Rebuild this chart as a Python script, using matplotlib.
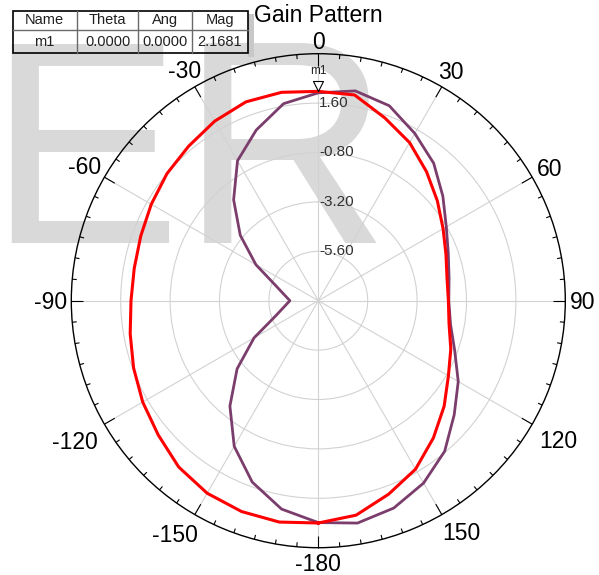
import numpy as np
import matplotlib
matplotlib.use('Agg')
import matplotlib.pyplot as plt
from matplotlib.patches import Rectangle
from matplotlib.transforms import ScaledTranslation

plt.rcParams['font.family'] = ['Liberation Sans', 'DejaVu Sans']

# gain pattern, dB, sampled every 10 deg (clockwise from top)
theta_deg = np.arange(-180, 181, 10)
gain_red = [2.80, 2.92, 2.90, 2.80, 2.55, 2.15, 1.85, 1.55, 1.28, 1.10,
            1.08, 1.18, 1.37, 1.60, 1.80, 2.07, 2.28, 2.28, 2.17,
            2.15, 1.45, 0.87, 0.18, -0.45, -1.00, -1.40, -1.65, -1.68,
            -1.55, -1.15, -0.70, -0.02, 0.70, 1.45, 2.00, 2.58, 2.80]
gain_purple = [2.78, 2.28, 1.38, 0.17, -1.32, -2.85, -4.40, -5.77, -6.32, -6.62,
               -6.32, -5.77, -4.50, -3.05, -1.60, -0.15, 0.82, 1.72, 2.10,
               2.35, 2.08, 1.38, 0.72, -0.10, -0.82, -1.28, -1.55, -1.66,
               -1.48, -0.95, -0.15, 0.62, 1.55, 2.23, 2.72, 2.97, 2.78]

r_min, r_max = -8.0, 4.0
ring_values = [-5.6, -3.2, -0.8, 1.6]
ang_ticks = [0, 30, 60, 90, 120, 150, 180, -150, -120, -90, -60, -30]
ang_labels = ['0', '30', '60', '90', '120', '150', '-180', '-150', '-120', '-90', '-60', '-30']

marker_name = 'm1'
marker_theta = 0.0
marker_mag = 2.1681
table_head = ['Name', 'Theta', 'Ang', 'Mag']
table_row = ['m1', '0.0000', '0.0000', '2.1681']

W, H = 599, 575
fig = plt.figure(figsize=(W / 100, H / 100), dpi=100)


def fx(px):
    return px / W


def fy(py):
    return 1 - py / H


# watermark behind everything
fig.text(fx(-13), fy(243), 'ER', fontsize=209, color='#d9d9d9',
         ha='left', va='baseline', zorder=-1)

ax = fig.add_axes([0.11903, 0.04748, 0.82471, 0.85913], projection='polar', zorder=1)
ax.set_facecolor('none')
ax.set_theta_zero_location('N')
ax.set_theta_direction(-1)
ax.set_rlim(r_min, r_max)
ax.set_rgrids(ring_values, labels=[''] * len(ring_values))
ax.set_thetagrids(np.arange(0, 360, 30), labels=[''] * 12)
ax.grid(color='#d2d2d2', lw=0.8)
ax.tick_params(length=0)
ax.spines['polar'].set_color('black')
ax.spines['polar'].set_linewidth(1.0)

# tick marks round the rim
px2db = (r_max - r_min) / 247.0
minor = [a for a in range(0, 360, 5) if a % 30]
ax.vlines(np.deg2rad(minor), r_max - 4.5 * px2db, r_max, colors='black', lw=0.8, clip_on=False)
ax.vlines(np.deg2rad(np.arange(0, 360, 30)), r_max - 12 * px2db, r_max, colors='black', lw=0.8, clip_on=False)

th = np.deg2rad(theta_deg)
ax.plot(th, gain_purple, color='#7b3d6c', lw=2.0, zorder=3)
ax.plot(th, gain_red, color='#ff0000', lw=2.2, zorder=4)

# marker m1
tri = [(-0.5, 1), (0.5, 1), (0, 0), (-0.5, 1)]
ax.plot([np.deg2rad(marker_theta)], [marker_mag], marker=tri, ms=14.4, mfc='white',
        mec='black', mew=0.8, ls='none', zorder=6, clip_on=False)
ax.annotate(marker_name, xy=(np.deg2rad(marker_theta), marker_mag), xytext=(0, 10.5),
            textcoords='offset points', ha='center', va='bottom', fontsize=8.5, color='#202020')

# ring labels
for v in ring_values:
    ax.annotate('%.2f' % v, xy=(0, v), xytext=(0.5, 0), textcoords='offset points',
                ha='left', va='center', fontsize=11, color='#303030', zorder=5)

# angle labels placed just outside the rim
fig.canvas.draw()
rend = fig.canvas.get_renderer()
fs = 16.5
cap = 0.716 * fs * fig.dpi / 72
for a, lab in zip(ang_ticks, ang_labels):
    t = ax.text(np.deg2rad(a), r_max, lab, fontsize=fs, ha='center', va='baseline', clip_on=False)
    w = t.get_window_extent(rend).width
    s, c = np.sin(np.deg2rad(a)), np.cos(np.deg2rad(a))
    if c > -0.1:
        gap = 4.5
    elif c > -0.95:
        gap = 10
    else:
        gap = 7
    d = gap + abs(s) * w / 2 + abs(c) * cap / 2
    # lower-diagonal labels sit a little wider in the original
    shift = 6 * np.sign(s) if -0.95 < c < -0.7 else 0
    t.set_transform(ax.transData + ScaledTranslation((s * d + shift) / fig.dpi,
                                                      (c * d - cap / 2 + abs(shift)) / fig.dpi,
                                                      fig.dpi_scale_trans))

fig.text(fx(318.5), fy(21.5), 'Gain Pattern', fontsize=16.5, ha='center', va='baseline')

# marker table
tab = fig.add_axes([0, 0, 1, 1], zorder=3)
tab.set_xlim(0, W)
tab.set_ylim(H, 0)
tab.axis('off')
col_x = [12.7, 76.7, 138.3, 191.7, 248.3]
row_y = [10.7, 30.0, 52.7]
tab.add_patch(Rectangle((col_x[-1], row_y[0] + 3), 5.5, row_y[-1] - row_y[0] + 1, color='#c8c8c8', lw=0))
tab.add_patch(Rectangle((col_x[0], row_y[0]), col_x[-1] - col_x[0], row_y[1] - row_y[0],
                        facecolor='white', edgecolor='none'))
for x in col_x[1:-1]:
    tab.plot([x, x], [row_y[0], row_y[-1]], color='#6a6a6a', lw=1)
tab.plot([col_x[0], col_x[-1]], [row_y[1], row_y[1]], color='#6a6a6a', lw=1)
tab.add_patch(Rectangle((col_x[0], row_y[0]), col_x[-1] - col_x[0], row_y[-1] - row_y[0],
                        facecolor='none', edgecolor='black', lw=1.2))
for i in range(4):
    cx = (col_x[i] + col_x[i + 1]) / 2
    tab.text(cx, (row_y[0] + row_y[1]) / 2, table_head[i], ha='center', va='center',
             fontsize=10.5, color='#202020')
    tab.text(cx, (row_y[1] + row_y[2]) / 2 + 0.5, table_row[i], ha='center', va='center',
             fontsize=10.5, color='#202020')

fig.savefig('out.png', dpi=100)
